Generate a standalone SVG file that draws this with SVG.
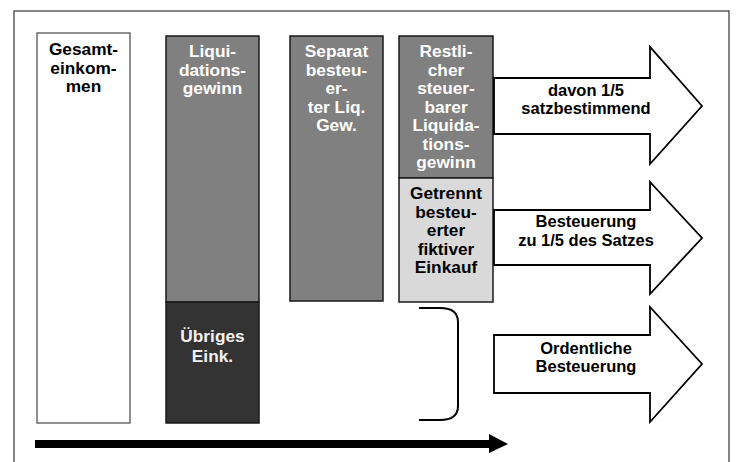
<svg xmlns="http://www.w3.org/2000/svg" width="748" height="462" viewBox="0 0 748 462">
<style>
  text { font-family: "Liberation Sans", Arial, sans-serif; font-weight: bold; text-anchor: middle; }
  .bl { font-size: 17.3px; }
  .al { font-size: 16.5px; fill: #000; }
  .w { fill: #ffffff; }
  .k { fill: #000000; }
  .box { stroke: #1a1a1a; stroke-width: 1.5; }
  .arrow { fill: #ffffff; stroke: #000; stroke-width: 1.8; stroke-linejoin: miter; }
</style>
<rect x="0" y="0" width="748" height="462" fill="#ffffff"/>
<rect id="frame" x="14" y="11" width="715" height="470" fill="none" stroke="#333" stroke-width="1.2"/>

<g id="gesamt">
  <rect x="37" y="33" width="93" height="390" fill="#fff" stroke="#555" stroke-width="1.3"/>
  <text class="bl k" x="83.5" y="55">Gesamt-</text>
  <text class="bl k" x="83.5" y="73.5">einkom-</text>
  <text class="bl k" x="83.5" y="92">men</text>
</g>

<g id="liquidation">
  <rect class="box" x="166" y="36" width="93" height="266" fill="#808080"/>
  <text class="bl w" x="212.5" y="57">Liqui-</text>
  <text class="bl w" x="212.5" y="75.5">dations-</text>
  <text class="bl w" x="212.5" y="94">gewinn</text>
</g>

<g id="uebriges">
  <rect class="box" x="166" y="302" width="93" height="121" fill="#333333"/>
  <text class="bl" x="212.5" y="342" fill="#f2f2f2">Übriges</text>
  <text class="bl" x="212.5" y="362" fill="#f2f2f2">Eink.</text>
</g>

<g id="separat">
  <rect class="box" x="290" y="36" width="93" height="265" fill="#808080"/>
  <text class="bl w" x="336.5" y="57">Separat</text>
  <text class="bl w" x="336.5" y="75.5">besteu-</text>
  <text class="bl w" x="336.5" y="94">er-</text>
  <text class="bl w" x="336.5" y="112.5">ter Liq.</text>
  <text class="bl w" x="336.5" y="131">Gew.</text>
</g>

<g id="restlicher">
  <rect class="box" x="399" y="36" width="94" height="142" fill="#808080"/>
  <text class="bl w" x="446" y="57">Restli-</text>
  <text class="bl w" x="446" y="75.5">cher</text>
  <text class="bl w" x="446" y="94">steuer-</text>
  <text class="bl w" x="446" y="112.5">barer</text>
  <text class="bl w" x="446" y="131">Liquida-</text>
  <text class="bl w" x="446" y="149.5">tions-</text>
  <text class="bl w" x="446" y="168">gewinn</text>
</g>

<g id="getrennt">
  <rect class="box" x="399" y="178" width="94" height="124" fill="#d9d9d9"/>
  <text class="bl k" x="446" y="199">Getrennt</text>
  <text class="bl k" x="446" y="217.5">besteu-</text>
  <text class="bl k" x="446" y="236">erter</text>
  <text class="bl k" x="446" y="254.5">fiktiver</text>
  <text class="bl k" x="446" y="273">Einkauf</text>
</g>

<g id="arrow-satz">
  <polygon class="arrow" points="494,78 650,78 650,47 702,106 650,164 650,134 494,134"/>
  <text class="al" x="586" y="96">davon 1/5</text>
  <text class="al" x="586" y="114">satzbestimmend</text>
</g>

<g id="arrow-fuenftel">
  <polygon class="arrow" points="494,210 650,210 650,182 702,238 650,294 650,265 494,265"/>
  <text class="al" x="586" y="227">Besteuerung</text>
  <text class="al" x="586" y="246">zu 1/5 des Satzes</text>
</g>

<g id="arrow-ordentlich">
  <polygon class="arrow" points="494,335 650,335 650,307 702,364 650,422 650,393 494,393"/>
  <text class="al" x="586" y="353.5">Ordentliche</text>
  <text class="al" x="586" y="372">Besteuerung</text>
</g>

<g id="connectors">
  <path d="M419,308 L440,308 Q458,308 458,322 L458,406 Q458,420 440,420 L419,420" fill="none" stroke="#000" stroke-width="2"/>
  <line x1="35" y1="444" x2="492" y2="444" stroke="#000" stroke-width="8"/>
  <polygon points="489,434 508,444 489,453" fill="#000"/>
</g>
</svg>
